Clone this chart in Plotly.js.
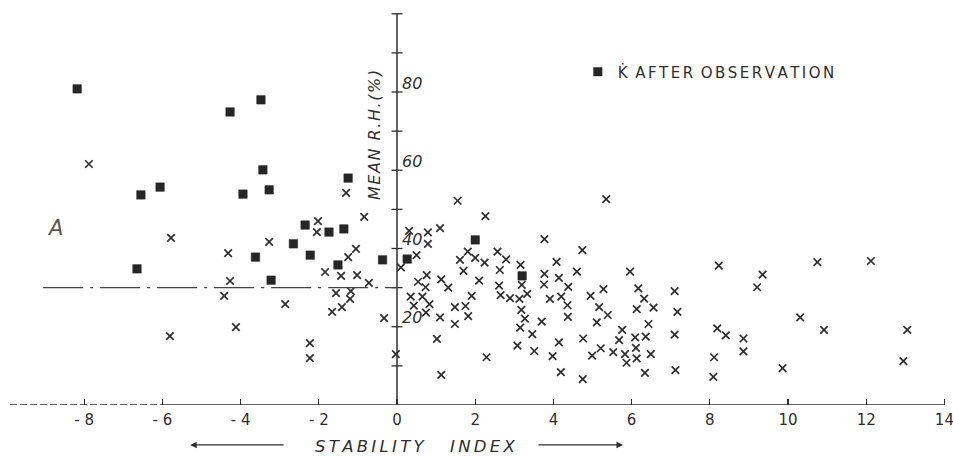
<!DOCTYPE html>
<html>
<head>
<meta charset="utf-8">
<script src="https://cdn.plot.ly/plotly-3.0.1.min.js"></script>
<style>
  html, body { margin: 0; padding: 0; background: #ffffff; }
  #chart { width: 953px; height: 456px; }
</style>
</head>
<body>
<div id="chart"></div>
<script>
// ---- Data ----
// Filled squares: K-dot after observation
const afterObsX = [-8.18, -6.65, -6.55, -6.06, -4.27, -3.48, -3.43, -3.94, -3.27, -3.62, -3.22,
                   -2.65, -2.35, -2.22, -1.74, -1.51, -1.36, -1.25, -0.37, 0.26, 2.00, 3.20];
const afterObsY = [80.8, 34.8, 53.7, 55.7, 74.9, 78.0, 60.1, 53.9, 55.0, 37.8, 31.9,
                   41.2, 46.0, 38.3, 44.2, 35.8, 45.0, 58.0, 37.1, 37.3, 42.2, 33.0];

// Crosses: all other cases
const otherX = [-7.88, -1.30, -0.84, -2.02, -2.05, -5.78, -3.27, -4.32, -1.25, -1.05, -1.84, -1.43,
                -1.02, -0.72, -4.27, -4.42, -1.56, -1.18, -1.20, -1.41, -1.66, -2.86, -4.12, -5.81,
                -2.23, -2.23, -0.33, -0.03,
                1.55, 2.26, 5.35, 0.31, 0.79, 1.10, 0.79, 3.77, 4.74, 0.50, 0.10, 1.81, 1.61, 2.00,
                2.24, 2.57, 2.79, 1.70, 2.63, 3.16, 4.08, 3.77, 4.60, 5.96, 0.76, 1.13, 0.54, 2.10,
                4.14, 0.73, 1.31, 2.61, 3.19, 3.76, 4.38, 5.28, 6.17, 7.10, 0.35, 0.65, 2.65, 2.89,
                3.13, 3.33, 3.91, 4.20, 4.95, 6.32, 1.91, 0.43, 0.83, 0.74, 1.48, 1.75, 4.36, 5.17,
                6.13, 6.56, 7.17, 1.82, 1.10, 3.18, 3.27, 4.37, 5.39, 5.11, 3.70, 1.48, 6.43, 3.15,
                5.76, 3.46, 1.02, 4.76, 5.68, 6.09, 6.36, 7.10, 4.14, 3.08, 3.51, 3.98, 4.99, 5.21,
                5.53, 5.83, 6.11, 6.13, 5.87, 6.49, 2.29, 1.13, 4.19, 4.75, 6.34, 7.12,
                8.23, 8.19, 8.41, 8.11, 8.09, 8.86, 8.86, 9.21, 9.35, 9.86, 10.31, 10.75, 10.92,
                12.12, 12.95, 13.05];
const otherY = [61.6, 54.2, 48.1, 47.0, 44.2, 42.7, 41.7, 38.8, 37.8, 39.9, 34.0, 33.0,
                33.2, 31.2, 31.7, 27.9, 28.6, 29.1, 27.1, 25.0, 23.8, 25.8, 19.9, 17.6,
                15.8, 12.0, 22.2, 13.0,
                52.2, 48.3, 52.6, 44.5, 44.1, 45.2, 41.2, 42.4, 39.6, 38.3, 35.2, 39.2, 37.1, 37.6,
                36.4, 39.2, 37.2, 34.3, 34.5, 35.8, 36.6, 33.5, 34.1, 34.1, 33.2, 32.1, 31.5, 31.8,
                32.5, 30.1, 30.0, 30.5, 30.7, 30.8, 30.2, 29.6, 29.8, 29.1, 27.7, 27.7, 28.1, 27.3,
                27.1, 28.4, 27.1, 27.7, 27.9, 27.2, 27.9, 25.4, 25.8, 23.6, 25.0, 25.3, 25.5, 25.0,
                24.5, 24.9, 23.8, 22.7, 22.4, 24.3, 22.1, 22.5, 23.0, 21.1, 21.3, 20.7, 20.7, 19.8,
                19.2, 18.1, 16.9, 17.0, 16.6, 17.3, 17.5, 18.0, 16.0, 15.2, 13.8, 12.5, 12.6, 14.5,
                13.5, 13.0, 14.6, 11.9, 10.8, 13.0, 12.2, 7.7, 8.4, 6.6, 8.2, 8.9,
                35.6, 19.6, 17.8, 12.2, 7.2, 17.0, 13.7, 30.1, 33.3, 9.4, 22.4, 36.5, 19.2,
                36.8, 11.2, 19.2];

// Axis ticks and labels
const xTickVals = [-8, -6, -4, -2, 0, 2, 4, 6, 8, 10, 12, 14];
const xTickText = ['- 8', '- 6', '- 4', '- 2', '0', '2', '4', '6', '8', '10', '12', '14'];
const yTickVals = [10, 20, 30, 40, 50, 60, 70, 80, 90, 100];
const yLabelVals = [20, 40, 60, 80];
const yLabelText = ['20', '40', '60', '80'];
const referenceRH = 30;      // dash-dot reference level
const spaced = s => s.split('').join('\u2006');
const legendLabel = 'K\u0307\u2002' + spaced('AFTER') + '\u2002' + spaced('OBSERVATION');

// ---- Layout geometry ----
const xMin = -9.898, xMax = 14.066;
const yMin = 0, yMax = 100.96;
const ink = '#2e2e2e';
const yAxisPos = (0 - xMin) / (xMax - xMin);

const shapes = [];
// x axis line: dashed on the far left, solid elsewhere
shapes.push({type: 'line', xref: 'x', yref: 'y', x0: xMin, x1: -6, y0: 0, y1: 0,
             line: {color: ink, width: 1.4, dash: '7px,3px'}});
shapes.push({type: 'line', xref: 'x', yref: 'y', x0: -6, x1: 14.0, y0: 0, y1: 0,
             line: {color: ink, width: 1.5}});
// y axis line at x = 0
shapes.push({type: 'line', xref: 'x', yref: 'y', x0: 0, x1: 0, y0: -1.3, y1: 100,
             line: {color: ink, width: 1.5}});
// crossing ticks on the y axis
yTickVals.forEach(v => {
  shapes.push({type: 'line', xref: 'x', yref: 'y', x0: -0.14, x1: 0.14, y0: v, y1: v,
               line: {color: ink, width: 1.3}});
});
// dash-dot reference line
shapes.push({type: 'line', xref: 'x', yref: 'y', x0: -9.05, x1: 0, y0: referenceRH, y1: referenceRH,
             line: {color: '#444', width: 1.3, dash: '40px,7px,3px,7px'}});

const traces = [
  {
    x: otherX, y: otherY, type: 'scatter', mode: 'markers', showlegend: false,
    marker: {symbol: 'x-thin', size: 7.5, line: {color: ink, width: 1.7}, color: ink},
    hoverinfo: 'skip'
  },
  {
    x: afterObsX, y: afterObsY, type: 'scatter', mode: 'markers', name: legendLabel,
    marker: {symbol: 'square', size: 8.5, color: '#262626', line: {color: '#262626', width: 0.5}},
    hoverinfo: 'skip'
  }
];

const layout = {
  width: 953, height: 456,
  margin: {l: 10, r: 6, t: 10, b: 51},
  paper_bgcolor: '#ffffff', plot_bgcolor: 'rgba(0,0,0,0)',
  showlegend: true,
  legend: {x: 0.606, y: 0.885, xanchor: 'left', yanchor: 'top', bgcolor: 'rgba(0,0,0,0)',
           font: {family: 'DejaVu Sans', size: 15, color: ink}, itemwidth: 30},
  xaxis: {
    range: [xMin, xMax], showgrid: false, zeroline: false, showline: false,
    tickmode: 'array', tickvals: xTickVals, ticktext: xTickText,
    ticks: 'inside', ticklen: 6, tickwidth: 1.3, tickcolor: ink,
    ticklabelstandoff: 4, ticklabeloverflow: 'allow',
    tickfont: {family: 'DejaVu Sans', size: 15, color: ink}
  },
  yaxis: {
    range: [yMin, yMax], showgrid: false, zeroline: false, showline: false,
    anchor: 'free', position: yAxisPos, side: 'right',
    tickmode: 'array', tickvals: yLabelVals, ticktext: yLabelText, ticks: '',
    ticklabelshift: -9, ticklabelstandoff: 4,
    tickfont: {family: 'DejaVu Sans', size: 16, color: ink, style: 'italic'}
  },
  shapes: shapes,
  annotations: [
    {text: 'M\u200AE\u200AA\u200AN\u2002R\u200A.\u200AH\u200A.\u200A(\u200A%\u200A)', textangle: -90,
     xref: 'x', yref: 'y', x: 0, y: 69, xshift: -23, showarrow: false,
     font: {family: 'DejaVu Sans', size: 16, color: ink, style: 'italic'}},
    {text: 'A', xref: 'x', yref: 'y', x: -8.75, y: 45.2, showarrow: false,
     font: {family: 'DejaVu Sans', size: 21, color: '#555', style: 'italic', weight: 300}},
    {text: 'S\u2009T\u2009A\u2009B\u2009I\u2009L\u2009I\u2009T\u2009Y\u2009\u2003\u2009\u2009I\u2009N\u2009D\u2009E\u2009X',
     xref: 'x', yref: 'paper', x: 0.46, y: -0.104, yanchor: 'middle', xanchor: 'center', showarrow: false,
     font: {family: 'DejaVu Sans', size: 16.5, color: ink, style: 'italic'}},
    {text: '', xref: 'x', yref: 'paper', x: -5.29, y: -0.101, showarrow: true,
     ax: 95, ay: 0, arrowhead: 2, arrowsize: 1, arrowwidth: 1.3, arrowcolor: ink},
    {text: '', xref: 'x', yref: 'paper', x: 5.78, y: -0.101, showarrow: true,
     ax: -86, ay: 0, arrowhead: 2, arrowsize: 1, arrowwidth: 1.3, arrowcolor: ink}
  ]
};

Plotly.newPlot('chart', traces, layout, {displayModeBar: false, staticPlot: true});
</script>
</body>
</html>
